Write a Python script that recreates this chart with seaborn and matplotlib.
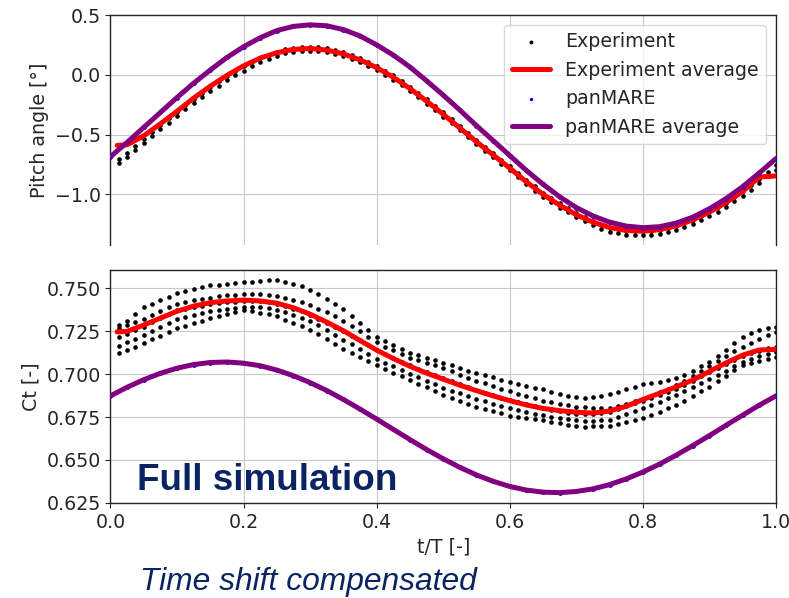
import numpy as np
import pandas as pd
import seaborn as sns
import matplotlib.pyplot as plt

# time grids (t/T)
t_exp = np.linspace(0.0125, 1.0, 80)
t_sim = np.linspace(0.0, 1.0, 41)
t_exp_avg = np.r_[0.01, t_sim[1:]]

# pitch angle, experiment samples (two cycles)
pitch_exp_1 = [-0.705, -0.65, -0.595, -0.535, -0.48, -0.42, -0.365, -0.31, -0.255, -0.2,
               -0.15, -0.1, -0.055, -0.01, 0.03, 0.07, 0.105, 0.139, 0.166, 0.19,
               0.215, 0.227, 0.233, 0.235, 0.23, 0.222, 0.208, 0.19, 0.167, 0.14,
               0.109, 0.075, 0.036, -0.005, -0.052, -0.1, -0.152, -0.205, -0.26, -0.315,
               -0.372, -0.43, -0.488, -0.545, -0.6, -0.655, -0.71, -0.765, -0.823, -0.88,
               -0.933, -0.985, -1.03, -1.075, -1.115, -1.155, -1.19, -1.225, -1.255, -1.277,
               -1.29, -1.302, -1.305, -1.308, -1.302, -1.295, -1.279, -1.263, -1.238, -1.213,
               -1.18, -1.148, -1.108, -1.068, -1.022, -0.975, -0.924, -0.871, -0.815, -0.758]
pitch_exp_2 = [-0.74, -0.685, -0.63, -0.57, -0.515, -0.455, -0.4, -0.345, -0.29, -0.235,
               -0.185, -0.135, -0.09, -0.045, -0.005, 0.035, 0.07, 0.104, 0.131, 0.155,
               0.18, 0.192, 0.198, 0.2, 0.195, 0.187, 0.173, 0.155, 0.132, 0.105,
               0.074, 0.04, 0.001, -0.04, -0.087, -0.135, -0.187, -0.24, -0.295, -0.35,
               -0.407, -0.465, -0.523, -0.58, -0.635, -0.69, -0.745, -0.8, -0.858, -0.915,
               -0.968, -1.02, -1.065, -1.11, -1.15, -1.19, -1.223, -1.257, -1.29, -1.312,
               -1.325, -1.337, -1.34, -1.343, -1.337, -1.33, -1.314, -1.298, -1.273, -1.248,
               -1.215, -1.183, -1.143, -1.103, -1.057, -1.01, -0.959, -0.906, -0.85, -0.793]

pitch_exp_avg = [-0.59, -0.585, -0.51, -0.41, -0.305, -0.195, -0.095, -0.005, 0.075, 0.14,
                 0.185, 0.212, 0.22, 0.207, 0.175, 0.125, 0.06, -0.02, -0.115, -0.22,
                 -0.33, -0.445, -0.56, -0.67, -0.78, -0.895, -1.0, -1.09, -1.17, -1.232,
                 -1.277, -1.302, -1.308, -1.295, -1.263, -1.213, -1.148, -1.068, -0.975, -0.855,
                 -0.845]
pitch_pan = [-0.685, -0.565, -0.44, -0.315, -0.19, -0.07, 0.04, 0.145, 0.235, 0.31,
             0.37, 0.405, 0.418, 0.41, 0.378, 0.325, 0.25, 0.165, 0.065, -0.05,
             -0.17, -0.295, -0.425, -0.55, -0.675, -0.80, -0.915, -1.02, -1.11, -1.18,
             -1.232, -1.265, -1.278, -1.27, -1.24, -1.19, -1.12, -1.035, -0.935, -0.82,
             -0.70]

# thrust coefficient, experiment samples (five cycles)
ct_exp_1 = [0.7285, 0.731, 0.735, 0.739, 0.741, 0.743, 0.745, 0.747, 0.748, 0.7493,
            0.7505, 0.7515, 0.752, 0.7525, 0.753, 0.7535, 0.7538, 0.7541, 0.7544, 0.7545,
            0.7538, 0.7525, 0.751, 0.749, 0.7465, 0.7438, 0.741, 0.738, 0.734, 0.7295,
            0.7255, 0.7215, 0.719, 0.7168, 0.7145, 0.7125, 0.711, 0.7095, 0.708, 0.7065,
            0.705, 0.7035, 0.702, 0.7005, 0.6992, 0.698, 0.6968, 0.6955, 0.6943, 0.6932,
            0.692, 0.691, 0.6898, 0.6886, 0.6875, 0.6865, 0.6862, 0.6866, 0.6874, 0.6885,
            0.6898, 0.6912, 0.6926, 0.694, 0.6948, 0.6956, 0.6965, 0.6975, 0.6995, 0.702,
            0.7045, 0.707, 0.7105, 0.7142, 0.718, 0.7215, 0.7238, 0.7255, 0.7267, 0.7275]
ct_exp_2 = [0.7265, 0.7283, 0.7302, 0.732, 0.7345, 0.7366, 0.7387, 0.7405, 0.7417, 0.7428,
            0.7437, 0.7445, 0.7452, 0.7458, 0.7462, 0.7465, 0.7466, 0.7465, 0.7461, 0.7455,
            0.7445, 0.7432, 0.7417, 0.740, 0.738, 0.7358, 0.7335, 0.731, 0.728, 0.7248,
            0.7216, 0.7185, 0.716, 0.7137, 0.7115, 0.7095, 0.708, 0.7065, 0.705, 0.7035,
            0.7016, 0.6997, 0.6978, 0.696, 0.6945, 0.693, 0.6915, 0.690, 0.6886, 0.6872,
            0.6858, 0.6845, 0.6835, 0.6826, 0.6818, 0.681, 0.6806, 0.6804, 0.6804, 0.6805,
            0.6815, 0.6828, 0.6841, 0.6855, 0.6875, 0.6895, 0.6915, 0.6935, 0.6962, 0.699,
            0.7018, 0.7045, 0.7074, 0.7103, 0.7132, 0.716, 0.7183, 0.7206, 0.7226, 0.7245]
ct_exp_3 = [0.7215, 0.7235, 0.7255, 0.7275, 0.730, 0.7325, 0.7348, 0.737, 0.738, 0.739,
            0.7398, 0.7405, 0.7411, 0.7417, 0.7421, 0.7425, 0.7425, 0.7423, 0.7418, 0.741,
            0.7397, 0.7381, 0.7364, 0.7345, 0.7322, 0.7298, 0.7274, 0.725, 0.7222, 0.7195,
            0.7167, 0.714, 0.7117, 0.7095, 0.7072, 0.705, 0.7031, 0.7012, 0.6993, 0.6975,
            0.6957, 0.694, 0.6922, 0.6905, 0.6891, 0.6877, 0.6863, 0.685, 0.6837, 0.6825,
            0.6812, 0.680, 0.6791, 0.6783, 0.6776, 0.677, 0.6768, 0.6769, 0.6773, 0.678,
            0.6795, 0.6812, 0.6829, 0.6845, 0.6862, 0.688, 0.6897, 0.6915, 0.6939, 0.6962,
            0.6986, 0.701, 0.7034, 0.7058, 0.7082, 0.7105, 0.7121, 0.7136, 0.7149, 0.716]
ct_exp_4 = [0.7165, 0.7185, 0.7205, 0.7225, 0.725, 0.7275, 0.7298, 0.732, 0.7333, 0.7345,
            0.7356, 0.7365, 0.7373, 0.738, 0.7386, 0.739, 0.7391, 0.739, 0.7384, 0.7375,
            0.736, 0.7343, 0.7327, 0.731, 0.7283, 0.7255, 0.7228, 0.720, 0.7172, 0.7145,
            0.7117, 0.709, 0.7067, 0.7045, 0.7022, 0.700, 0.698, 0.696, 0.694, 0.692,
            0.6903, 0.6887, 0.6871, 0.6855, 0.6841, 0.6827, 0.6814, 0.680, 0.679, 0.678,
            0.677, 0.676, 0.6752, 0.6745, 0.6737, 0.673, 0.6728, 0.6729, 0.6731, 0.6735,
            0.6751, 0.6767, 0.6784, 0.680, 0.682, 0.684, 0.686, 0.688, 0.6902, 0.6925,
            0.6948, 0.697, 0.6995, 0.702, 0.7045, 0.707, 0.7087, 0.7103, 0.7117, 0.713]
ct_exp_5 = [0.712, 0.714, 0.716, 0.718, 0.7202, 0.7224, 0.7245, 0.7265, 0.7281, 0.7296,
            0.7311, 0.7325, 0.7337, 0.7349, 0.736, 0.737, 0.7365, 0.7357, 0.7347, 0.7335,
            0.7317, 0.7298, 0.7278, 0.7258, 0.723, 0.7202, 0.7173, 0.7145, 0.7121, 0.7097,
            0.7073, 0.705, 0.7029, 0.7008, 0.6986, 0.6965, 0.6944, 0.6922, 0.6901, 0.688,
            0.6862, 0.6845, 0.6827, 0.681, 0.6797, 0.6784, 0.6771, 0.6758, 0.6751, 0.6745,
            0.6738, 0.6732, 0.6723, 0.6713, 0.6704, 0.6695, 0.6694, 0.6695, 0.6697, 0.670,
            0.6711, 0.6722, 0.6733, 0.6745, 0.6764, 0.6782, 0.6801, 0.682, 0.6846, 0.6872,
            0.6899, 0.6925, 0.6958, 0.699, 0.7023, 0.7055, 0.7066, 0.7078, 0.7089, 0.710]

ct_exp_avg = [0.7245, 0.7248, 0.7285, 0.7325, 0.7365, 0.7395, 0.7415, 0.7425, 0.743, 0.7425,
              0.7412, 0.7385, 0.7348, 0.7302, 0.7252, 0.7195, 0.7139, 0.709, 0.7045, 0.7005,
              0.697, 0.6935, 0.6903, 0.6873, 0.6845, 0.682, 0.68, 0.6787, 0.6778, 0.6773,
              0.6785, 0.6812, 0.6852, 0.6888, 0.6925, 0.6965, 0.7015, 0.7065, 0.711, 0.714,
              0.7143]
ct_pan = [0.6873, 0.6923, 0.6967, 0.7004, 0.7034, 0.7055, 0.7067, 0.707, 0.7063, 0.7048,
          0.7023, 0.699, 0.695, 0.6904, 0.6852, 0.6796, 0.6738, 0.6678, 0.6619, 0.6561,
          0.6507, 0.6457, 0.6413, 0.6376, 0.6346, 0.6325, 0.6313, 0.631, 0.6317, 0.6332,
          0.6357, 0.639, 0.643, 0.6476, 0.6528, 0.6584, 0.6642, 0.6702, 0.6761, 0.6819,
          0.6873]

pitch_df = pd.DataFrame({'t': np.tile(t_exp, 2),
                         'pitch': np.concatenate([pitch_exp_1, pitch_exp_2])})
ct_df = pd.DataFrame({'t': np.tile(t_exp, 5),
                      'ct': np.concatenate([ct_exp_1, ct_exp_2, ct_exp_3, ct_exp_4, ct_exp_5])})

sns.set_style('ticks', {'axes.grid': True, 'grid.color': '#c8c8c8'})
plt.rcParams['font.family'] = ['DejaVu Sans']
fs = 13.7
plt.rcParams.update({'xtick.labelsize': fs, 'ytick.labelsize': fs,
                     'axes.labelsize': fs, 'legend.fontsize': fs,
                     'axes.linewidth': 1.0})

fig = plt.figure(figsize=(7.89, 5.98), dpi=100)
ax1 = fig.add_axes([0.140, 0.5903, 0.8435, 0.3846])
ax2 = fig.add_axes([0.140, 0.1589, 0.8435, 0.3896])

# top: pitch angle
sns.scatterplot(data=pitch_df, x='t', y='pitch', color='black', s=11, linewidth=0,
                label='Experiment', ax=ax1, zorder=2)
sns.lineplot(x=t_exp_avg, y=pitch_exp_avg, color='red', lw=3.6,
             label='Experiment average', ax=ax1, zorder=3)
sns.scatterplot(x=t_sim, y=pitch_pan, color='blue', s=12, linewidth=0,
                label='panMARE', ax=ax1, zorder=4)
sns.lineplot(x=t_sim, y=pitch_pan, color='purple', lw=3.6,
             label='panMARE average', ax=ax1, zorder=5)

# bottom: Ct
sns.scatterplot(data=ct_df, x='t', y='ct', color='black', s=11, linewidth=0, ax=ax2, zorder=2)
sns.lineplot(x=t_exp_avg, y=ct_exp_avg, color='red', lw=3.6, ax=ax2, zorder=3)
sns.scatterplot(x=t_sim, y=ct_pan, color='blue', s=12, linewidth=0, ax=ax2, zorder=4)
sns.lineplot(x=t_sim, y=ct_pan, color='purple', lw=3.6, ax=ax2, zorder=5)

xt = [0.0, 0.2, 0.4, 0.6, 0.8, 1.0]
ax1.set_xlim(0, 1)
ax1.set_ylim(-1.423, 0.5)
ax1.set_xticks(xt)
ax1.set_yticks([-1.0, -0.5, 0.0, 0.5])
ax1.tick_params(axis='x', bottom=False, labelbottom=False)
ax1.spines['bottom'].set_visible(False)
ax1.set_xlabel('')
ax1.set_ylabel('Pitch angle [°]')

ax2.set_xlim(0, 1)
ax2.set_ylim(0.625, 0.7605)
ax2.set_xticks(xt)
ax2.set_yticks([0.625, 0.650, 0.675, 0.700, 0.725, 0.750])
ax2.set_xlabel('t/T [-]')
ax2.set_ylabel('Ct [-]')
if ax2.get_legend() is not None:
    ax2.get_legend().remove()

leg = ax1.legend(loc='upper right', framealpha=0.8, edgecolor='#d0d0d0', fancybox=True)
leg.legend_handles[0].set_sizes([8])
leg.legend_handles[2].set_sizes([6])

navy = '#0a2463'
fig.text(137 / 789, 1 - 490 / 598, 'Full simulation', fontsize=26.6, fontweight='bold',
         family='Liberation Sans', color=navy, ha='left', va='baseline')
fig.text(140 / 789, 1 - 590 / 598, 'Time shift compensated', fontsize=22.9, style='italic',
         family='Liberation Sans', color=navy, ha='left', va='baseline')

fig.savefig('out.png', dpi=100)
